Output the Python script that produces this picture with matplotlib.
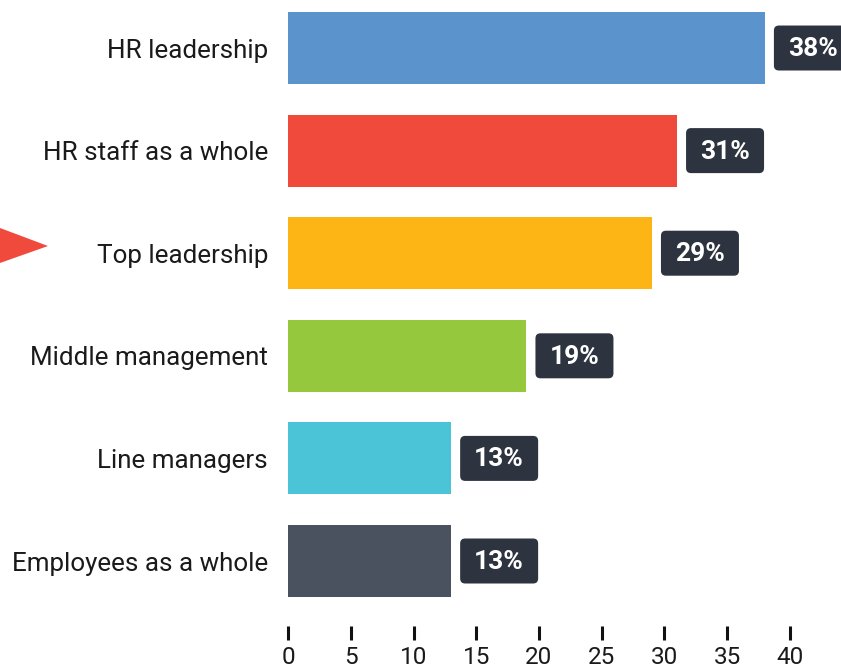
import matplotlib
matplotlib.use("Agg")
import matplotlib.pyplot as plt
import matplotlib.transforms as mtransforms
from matplotlib.patches import FancyBboxPatch, Polygon

plt.rcParams['font.family'] = ['Roboto', 'DejaVu Sans']

categories = ["HR leadership", "HR staff as a whole", "Top leadership",
              "Middle management", "Line managers", "Employees as a whole"]
values = [38, 31, 29, 19, 13, 13]
colors = ["#5b93cc", "#f04a3c", "#fdb516", "#96c83e", "#4bc4d8", "#4a5260"]
xticks = [0, 5, 10, 15, 20, 25, 30, 35, 40]

W, H = 841, 669
fig = plt.figure(figsize=(W / 100, H / 100), dpi=100)
ax = fig.add_axes([288 / W, 1 - 612.3 / H, (790 - 288) / W, 612.3 / H])

# move the bottom spine down first (this resets tick properties)
ax.spines["bottom"].set_position(("outward", 10.1))
for s in ax.spines.values():
    s.set_visible(False)

ypos = list(range(len(categories)))
ax.barh(ypos, values, height=0.70, color=colors)
ax.set_xlim(0, 40)
ax.set_ylim(5.5, -0.468)

ax.set_yticks(ypos)
ax.set_yticklabels(categories, fontsize=18.7, color="#1a1a1a")
ax.tick_params(axis="y", length=0, pad=14.4)

ax.set_xticks(xticks)
ax.set_xticklabels([str(t) for t in xticks], fontsize=17.5, color="#1a1a1a")
ax.tick_params(axis="x", length=10, width=2.2, color="#111111", pad=4)

# value badges to the right of each bar
for y, v in zip(ypos, values):
    tr = mtransforms.ScaledTranslation(v, y, ax.transData)
    box = FancyBboxPatch((9, -22.5), 78, 45,
                         boxstyle="round,pad=0,rounding_size=5",
                         transform=tr, facecolor="#2d3440", edgecolor="none",
                         clip_on=False)
    ax.add_artist(box)
    ax.text(48, -1, f"{v}%", transform=tr, ha="center", va="center",
            fontsize=19, fontweight="bold", color="white", clip_on=False)

# pointer marker at the left edge
tri = Polygon([(0, H - 228), (48, H - 246), (0, H - 263)], closed=True,
              transform=mtransforms.IdentityTransform(), facecolor="#f04a3c",
              edgecolor="none")
fig.add_artist(tri)

fig.savefig("out.png", dpi=100)
